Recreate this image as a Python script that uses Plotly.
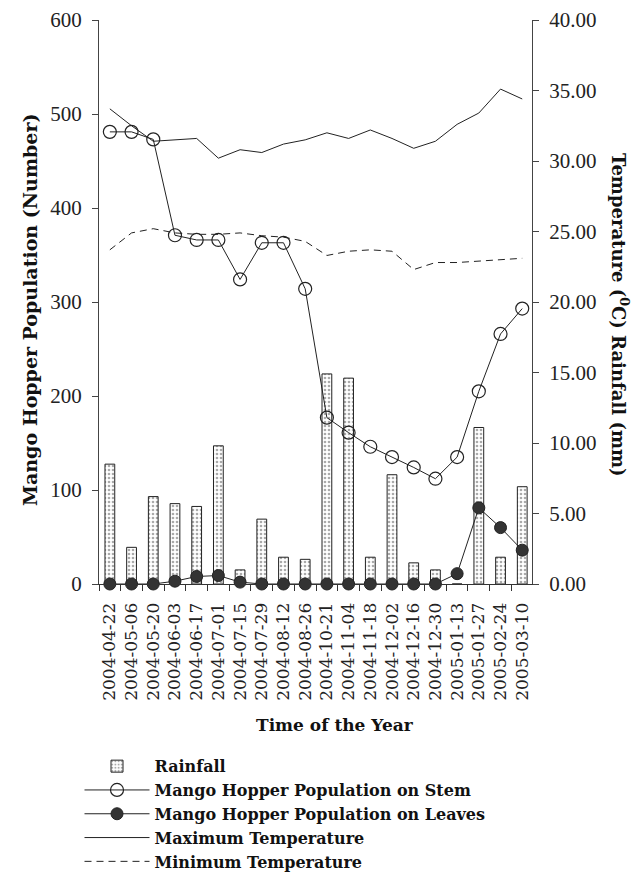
import plotly.graph_objects as go

dates = ["2004-04-22", "2004-05-06", "2004-05-20", "2004-06-03", "2004-06-17",
         "2004-07-01", "2004-07-15", "2004-07-29", "2004-08-12", "2004-08-26",
         "2004-10-21", "2004-11-04", "2004-11-18", "2004-12-02", "2004-12-16",
         "2004-12-30", "2005-01-13", "2005-01-27", "2005-02-24", "2005-03-10"]

rainfall = [8.5, 2.6, 6.2, 5.7, 5.5, 9.8, 1.0, 4.6, 1.9, 1.75,
            14.9, 14.6, 1.9, 7.75, 1.5, 1.0, 0.0, 11.1, 1.9, 6.9]

stem = [481, 481, 473, 371, 366, 366, 324, 363, 363, 314,
        177, 161, 146, 135, 124, 112, 135, 205, 266, 293]

leaves = [0, 0, 0, 3, 8, 9, 2, 0, 0, 0,
          0, 0, 0, 0, 0, 0, 11, 81, 60, 36]

max_temp = [33.7, 32.5, 31.4, 31.5, 31.6, 30.2, 30.8, 30.6, 31.2, 31.5,
            32.0, 31.6, 32.2, 31.6, 30.9, 31.4, 32.6, 33.4, 35.1, 34.4]

min_temp = [23.7, 24.9, 25.2, 24.9, 24.8, 24.8, 24.9, 24.7, 24.6, 24.3,
            23.3, 23.6, 23.7, 23.6, 22.3, 22.8, 22.8, 22.9, 23.0, 23.1]

left_ticks = [0, 100, 200, 300, 400, 500, 600]
right_ticks = [0, 5, 10, 15, 20, 25, 30, 35, 40]

serif = "Liberation Serif, Times New Roman, serif"
wide = "DejaVu Serif, serif"

fig = go.Figure()

fig.add_trace(go.Bar(
    x=dates, y=rainfall, name="Rainfall", yaxis="y", width=0.45,
    marker=dict(color="white", line=dict(color="#222", width=1),
                pattern=dict(shape=".", fgcolor="#555", bgcolor="white", size=4, solidity=0.35)),
))
fig.add_trace(go.Scatter(
    x=dates, y=stem, name="Mango Hopper Population on Stem", yaxis="y2",
    mode="lines+markers", cliponaxis=False,
    line=dict(color="#222", width=1),
    marker=dict(symbol="circle-open", size=13, color="#222", line=dict(width=1.2)),
))
fig.add_trace(go.Scatter(
    x=dates, y=leaves, name="Mango Hopper Population on Leaves", yaxis="y2",
    mode="lines+markers", cliponaxis=False,
    line=dict(color="#222", width=1),
    marker=dict(symbol="circle", size=12, color="#333", line=dict(color="#222", width=1)),
))
fig.add_trace(go.Scatter(
    x=dates, y=max_temp, name="Maximum Temperature", yaxis="y",
    mode="lines", line=dict(color="#222", width=1),
))
fig.add_trace(go.Scatter(
    x=dates, y=min_temp, name="Minimum Temperature", yaxis="y",
    mode="lines", line=dict(color="#222", width=1, dash="7px,5px"),
))

fig.update_layout(
    width=635, height=869,
    margin=dict(l=91, r=111, t=12, b=293, autoexpand=False),
    paper_bgcolor="white", plot_bgcolor="white",
    showlegend=True,
    bargap=0.5,
    xaxis=dict(
        type="category", range=[-0.5, 19.45], automargin=False,
        tickmode="array", tickvals=dates, ticktext=dates,
        showline=True, linecolor="#333", linewidth=1,
        ticks="outside", ticklen=6, tickcolor="#333", tickson="boundaries",
        tickangle=-90, tickfont=dict(family=wide, size=17, color="#222"),
        ticklabelstandoff=11,
        showgrid=False, zeroline=False,
    ),
    yaxis=dict(
        side="right", range=[0, 40], tickvals=right_ticks, tickformat=".2f",
        automargin=False,
        showline=True, linecolor="#444", linewidth=1,
        ticks="outside", ticklen=6, tickcolor="#444", ticklabelstandoff=6,
        tickfont=dict(family=serif, size=21, color="#222"),
        showgrid=False, zeroline=False,
    ),
    yaxis2=dict(
        side="left", overlaying="y", range=[0, 600], tickvals=left_ticks,
        automargin=False,
        showline=True, linecolor="#444", linewidth=1,
        ticks="outside", ticklen=6, tickcolor="#444", ticklabelstandoff=6,
        tickfont=dict(family=serif, size=21, color="#222"),
        showgrid=False, zeroline=False,
    ),
    legend=dict(
        x=-0.045, y=-0.293, xanchor="left", yanchor="top",
        font=dict(family=wide, size=16, color="#111", weight="bold"),
        itemwidth=65, tracegroupgap=0, bgcolor="rgba(0,0,0,0)",
    ),
    annotations=[
        dict(text="Mango Hopper Population (Number)", xref="paper", yref="paper",
             x=-0.159, y=0.486, xanchor="center", yanchor="middle",
             textangle=-90, showarrow=False,
             font=dict(family=wide, size=19, color="#111", weight="bold")),
        dict(text="Temperature (<sup>0</sup>C) Rainfall (mm)", xref="paper", yref="paper",
             x=1.203, y=0.477, xanchor="center", yanchor="middle",
             textangle=90, showarrow=False,
             font=dict(family=wide, size=18, color="#111", weight="bold")),
        dict(text="Time of the Year", xref="paper", yref="paper",
             x=0.545, y=-0.25, xanchor="center", yanchor="middle", showarrow=False,
             font=dict(family=wide, size=17, color="#111", weight="bold")),
    ],
)

fig.write_html("out.html")
